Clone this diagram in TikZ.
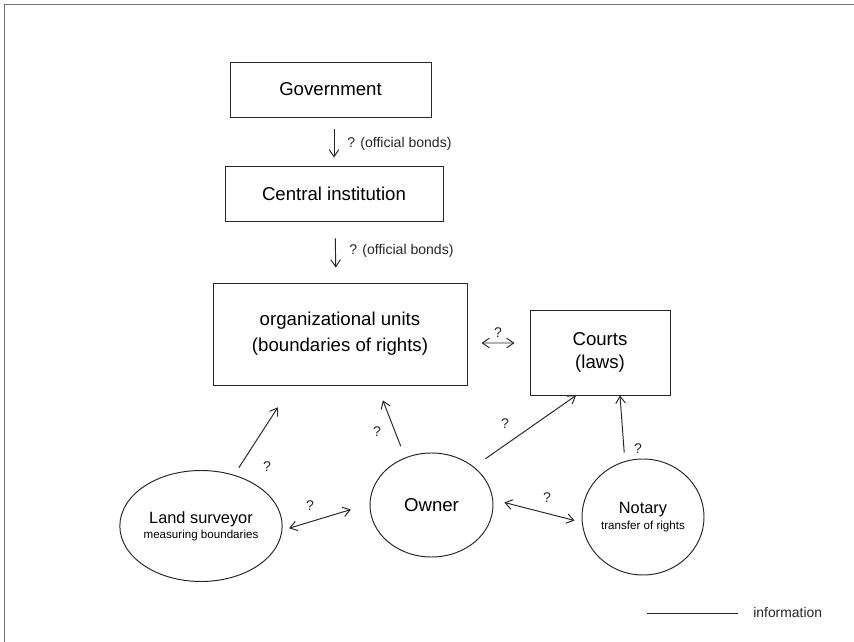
\documentclass[tikz,border=0pt]{standalone}
\usepackage{fontspec}
\setmainfont{Liberation Sans}
\usetikzlibrary{arrows.meta}
\usetikzlibrary{shapes.geometric}

\begin{document}
\begin{tikzpicture}
	\tikzset{box/.style={draw=black!85,line width=0.55pt,rectangle,inner sep=0pt,align=center,font=\fontsize{10.6}{13.5}\selectfont},
		actor/.style={draw=black!85,line width=0.55pt,ellipse,inner sep=0pt,align=center},
		flow/.style={draw=black!85,line width=0.55pt,-{Straight Barb[length=4pt,width=5.5pt]}},
		both/.style={draw=black!85,line width=0.55pt,{Straight Barb[length=4pt,width=5.5pt]}-{Straight Barb[length=4pt,width=5.5pt]}},
		qmark/.style={inner sep=0pt,text=black!85,font=\fontsize{8}{9.6}\selectfont}}
	
	% Sizes of the text
	\def\ownerfont{\fontsize{10.6}{12.5}\selectfont}
	\def\rolefont{\fontsize{9.3}{10}\selectfont}
	\def\taskfont{\fontsize{6.6}{8}\selectfont}
	
	\useasboundingbox (0,0) rectangle (17.08,12.84);
	
	% Frame on top and left
	\draw [black!55] (0.08,0) -- (0.08,12.76) -- (17.08,12.76);
	
	% Boxes
	\node[box,minimum width=4.02cm,minimum height=1.10cm] (gov) at (6.61,11.05) {Government};
	\node[box,minimum width=4.36cm,minimum height=1.10cm] (cen) at (6.68,8.97) {Central institution};
	\node[box,minimum width=5.08cm,minimum height=2.04cm] (org) at (6.80,6.16) {\raisebox{-0.1cm}{\shortstack{organizational units\\[2pt](boundaries of rights)}}};
	\node[box,minimum width=2.80cm,minimum height=1.70cm] (courts) at (12.00,5.79) {Courts\\(laws)};
	
	% Persons
	\node[actor,minimum width=2.44cm,minimum height=2.22cm] (ls) at (4.02,2.32) {\raisebox{-0.05cm}{\shortstack{\rolefont Land surveyor\\[-1pt]\taskfont measuring boundaries}}};
	\node[actor,minimum width=2.46cm,minimum height=2.08cm] (owner) at (8.63,2.74) {\ownerfont Owner};
	\node[actor,minimum width=2.44cm,minimum height=2.32cm] (notary) at (12.86,2.50) {\raisebox{-0.05cm}{\shortstack{\rolefont Notary\\[-1pt]\taskfont transfer of rights}}};
	
	% Official bonds
	\draw [flow,shorten <=0.24cm,shorten >=0.16cm] (cen.north |- gov.south) -- (cen.north);
	\draw [flow,shorten <=0.34cm,shorten >=0.30cm] ([xshift=0.02cm]cen.south) -- ([xshift=-0.08cm]org.north);
	\node[qmark,anchor=west] (b1) at (6.94,9.96) {? (official bonds)};
	\node[qmark,anchor=west] (b2) at (6.98,7.82) {? (official bonds)};
	
	% Information between units and courts
	\draw [both,shorten <=0.28cm,shorten >=0.30cm] ([yshift=-0.18cm]org.east) -- ([yshift=0.19cm]courts.west);
	\node[qmark] (q1) at (9.96,6.18) {?};
	
	% Information from the persons
	\draw [flow,shorten <=0.17cm,shorten >=0.52cm] (ls.57) -- ([xshift=-0.96cm]org.south);
	\node[qmark] (q2) at (5.34,3.50) {?};
	\draw [flow,shorten <=0.24cm,shorten >=0.32cm] (owner.119) -- ([xshift=0.74cm]org.south);
	\node[qmark] (q3) at (7.54,4.20) {?};
	\draw [both,shorten <=0.14cm,shorten >=0.39cm] (ls.-3) -- (owner.179);
	\node[qmark] (q4) at (6.20,2.72) {?};
	\draw [flow,shorten <=0.28cm] (owner.42) -- ([xshift=-0.48cm]courts.south);
	\node[qmark] (q5) at (10.10,4.36) {?};
	\draw [flow,shorten <=0.17cm] (notary.108) -- ([xshift=0.40cm]courts.south);
	\node[qmark] (q6) at (12.76,3.86) {?};
	\draw [both,shorten <=0.23cm,shorten >=0.15cm] (owner.5) -- (notary.185);
	\node[qmark] (q7) at (10.94,2.88) {?};
	
	% Legend
	\coordinate (l1) at (12.94,0.58);
	\coordinate (l2) at (14.76,0.58);
	\draw [black!85,line width=0.55pt] (l1) -- (l2);
	\node[qmark,anchor=west,font=\fontsize{7.9}{9}\selectfont] (info) at (15.06,0.58) {information};
	
\end{tikzpicture}
\end{document}
